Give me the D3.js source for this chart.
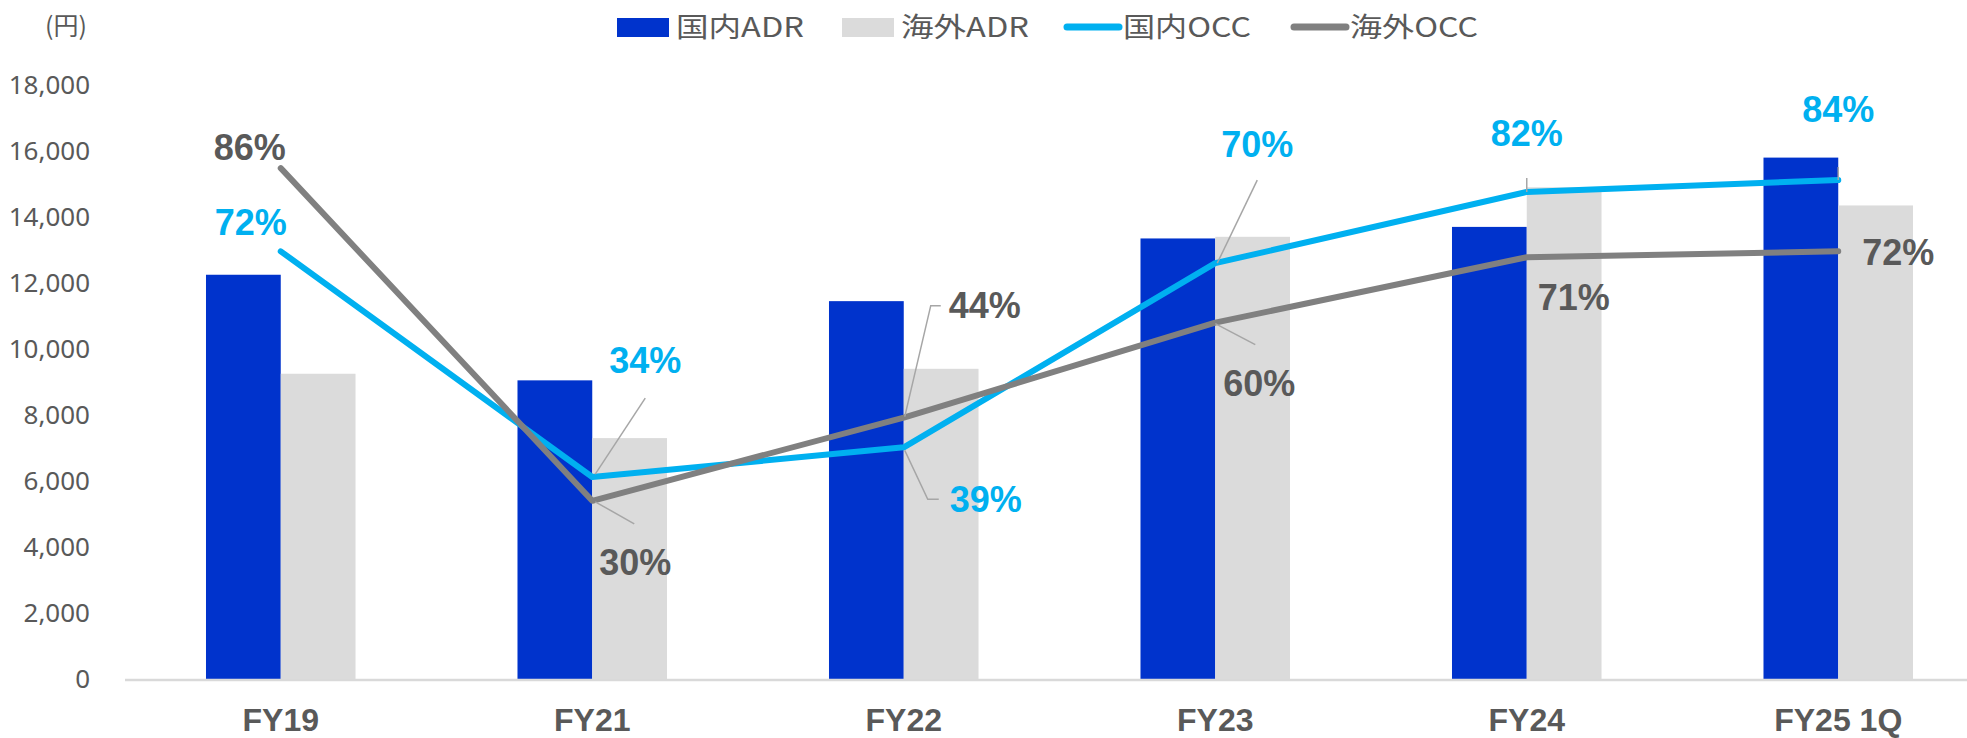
<!DOCTYPE html>
<html>
<head>
<meta charset="utf-8">
<script src="https://cdn.jsdelivr.net/npm/d3@7"></script>
<style>
  body { margin: 0; background: #fff; }
  svg { display: block; font-family: "Liberation Sans", Arial, sans-serif; }
</style>
</head>
<body>
<svg id="chart" width="1967" height="738"></svg>
<script>
// chart data
const categories = ["FY19", "FY21", "FY22", "FY23", "FY24", "FY25 1Q"];
const domesticADR = [12250, 9050, 11450, 13350, 13700, 15800];
const overseasADR = [9250, 7300, 9400, 13400, 14900, 14350];
const domesticOCC = [72, 34, 39, 70, 82, 84];
const overseasOCC = [86, 30, 44, 60, 71, 72];
const yTicks = [0, 2000, 4000, 6000, 8000, 10000, 12000, 14000, 16000, 18000];
const legendNames = ["国内ADR", "海外ADR", "国内OCC", "海外OCC"];

// label offsets from the data point (dx, dy of label centre) and leader paths
const domLabelPos = [
    {dx: -30, dy: -29},
    {dx: 53, dy: -117, leader: [[3, -3], [53, -79]]},
    {dx: 82, dy: 52, leader: [[1, 3], [24, 52], [35, 52]]},
    {dx: 42, dy: -119, leader: [[2, 0], [42, -83]]},
    {dx: 0, dy: -59, leader: [[0, -14], [0, 0]]},
    {dx: 0, dy: -71, leader: [[0, -13], [0, 0]]}
];
const ovsLabelPos = [
    {dx: -31, dy: -21},
    {dx: 43, dy: 61, leader: [[3, 1], [42, 23]]},
    {dx: 81, dy: -113, leader: [[1, -1], [27, -112], [37, -112]]},
    {dx: 44, dy: 60, leader: [[0, 1], [40, 22]]},
    {dx: 47, dy: 40},
    {dx: 60, dy: 1}
];

const colors = {
    domBar: "#0033CC",
    ovsBar: "#DBDBDB",
    domLine: "#00B0F0",
    ovsLine: "#808080",
    text: "#595959",
    leader: "#A6A6A6"
};

var svg = d3.select("#chart");

var x = d3.scaleBand()
    .domain(categories)
    .range([125, 1994])
    .paddingInner(0.52)
    .paddingOuter(0.26);

var x1 = d3.scaleBand()
    .domain(["dom", "ovs"])
    .range([0, x.bandwidth()]);

var y = d3.scaleLinear().domain([0, 18000]).range([679, 85]);
var yPct = d3.scaleLinear().domain([0, 100]).range([679, 85]);

function cx(i) { return x(categories[i]) + x.bandwidth() / 2; }

// y axis labels
svg.append("g")
    .attr("transform", "translate(125,0)")
    .call(d3.axisLeft(y).tickValues(yTicks).tickSize(0).tickPadding(35)
        .tickFormat(d3.format(",")))
    .call(g => g.select(".domain").remove())
    .selectAll("text")
    .attr("font-size", 26)
    .attr("font-family", "'Noto Sans', sans-serif")
    .attr("fill", colors.text);

svg.append("text")
    .attr("x", 66).attr("y", 35)
    .attr("text-anchor", "middle")
    .attr("font-size", 25)
    .attr("font-family", "'Noto Sans CJK JP', sans-serif")
    .attr("fill", colors.text)
    .text("(円)");

// bars
svg.append("g").selectAll("rect")
    .data(domesticADR)
    .enter().append("rect")
    .attr("x", (d, i) => x(categories[i]) + x1("dom"))
    .attr("y", d => y(d))
    .attr("width", x1.bandwidth())
    .attr("height", d => y(0) - y(d))
    .attr("fill", colors.domBar);

svg.append("g").selectAll("rect")
    .data(overseasADR)
    .enter().append("rect")
    .attr("x", (d, i) => x(categories[i]) + x1("ovs"))
    .attr("y", d => y(d))
    .attr("width", x1.bandwidth())
    .attr("height", d => y(0) - y(d))
    .attr("fill", colors.ovsBar);

// x axis
svg.append("line")
    .attr("x1", 125).attr("x2", 1967)
    .attr("y1", y(0) + 1).attr("y2", y(0) + 1)
    .attr("stroke", "#D9D9D9")
    .attr("stroke-width", 2.5);

svg.append("g").selectAll("text")
    .data(categories)
    .enter().append("text")
    .attr("x", (d, i) => cx(i))
    .attr("y", 731)
    .attr("text-anchor", "middle")
    .attr("font-size", 32)
    .attr("font-weight", "bold")
    .attr("fill", colors.text)
    .text(d => d);

// lines
var line = d3.line()
    .x((d, i) => cx(i))
    .y(d => yPct(d));

svg.append("path")
    .datum(domesticOCC)
    .attr("d", line)
    .attr("fill", "none")
    .attr("stroke", colors.domLine)
    .attr("stroke-width", 6)
    .attr("stroke-linecap", "round")
    .attr("stroke-linejoin", "round");

svg.append("path")
    .datum(overseasOCC)
    .attr("d", line)
    .attr("fill", "none")
    .attr("stroke", colors.ovsLine)
    .attr("stroke-width", 6)
    .attr("stroke-linecap", "round")
    .attr("stroke-linejoin", "round");

// data labels with leader lines
function drawLabels(values, pos, color) {
    var g = svg.append("g");
    values.forEach((v, i) => {
        var px = cx(i), py = yPct(v), p = pos[i];
        if (p.leader) {
            g.append("path")
                .attr("d", d3.line()(p.leader.map(q => [px + q[0], py + q[1]])))
                .attr("fill", "none")
                .attr("stroke", colors.leader)
                .attr("stroke-width", 1.5);
        }
        g.append("text")
            .attr("x", px + p.dx)
            .attr("y", py + p.dy)
            .attr("dy", "0.36em")
            .attr("text-anchor", "middle")
            .attr("font-size", 36)
            .attr("font-weight", "bold")
            .attr("fill", color)
            .text(v + "%");
    });
}
drawLabels(domesticOCC, domLabelPos, colors.domLine);
drawLabels(overseasOCC, ovsLabelPos, colors.text);

// legend
var legend = svg.append("g")
    .attr("font-family", "'Noto Sans CJK JP', sans-serif")
    .attr("font-size", 27)
    .attr("fill", colors.text);
var legendX = [617, 842, 1064, 1291];
legendNames.forEach((name, i) => {
    if (i < 2) {
        legend.append("rect")
            .attr("x", legendX[i]).attr("y", 18)
            .attr("width", 52).attr("height", 19)
            .attr("fill", i === 0 ? colors.domBar : colors.ovsBar);
    } else {
        legend.append("line")
            .attr("x1", legendX[i] + 3).attr("x2", legendX[i] + 55)
            .attr("y1", 27).attr("y2", 27)
            .attr("stroke", i === 2 ? colors.domLine : colors.ovsLine)
            .attr("stroke-width", 7)
            .attr("stroke-linecap", "round");
    }
    legend.append("text")
        .attr("x", legendX[i] + 59)
        .attr("y", 37)
        .attr("textLength", 128)
        .attr("lengthAdjust", "spacingAndGlyphs")
        .text(name);
});
</script>
</body>
</html>
